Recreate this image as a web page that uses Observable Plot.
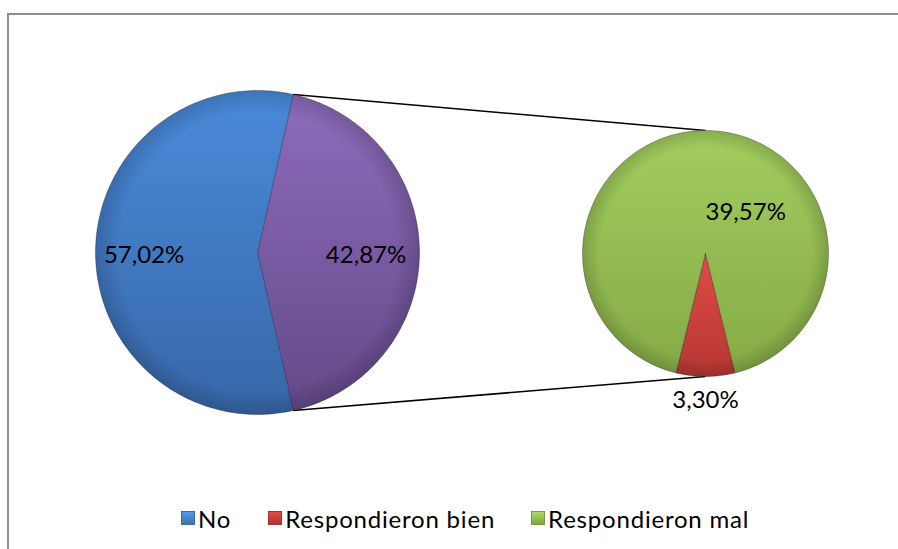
<!DOCTYPE html>
<html>
<head>
<meta charset="utf-8">
<script src="https://cdn.jsdelivr.net/npm/d3@7"></script>
<script src="https://cdn.jsdelivr.net/npm/@observablehq/plot@0.6"></script>
<style>
  html, body { margin: 0; padding: 0; background: #fff; }
  body { width: 898px; height: 549px; position: relative; overflow: hidden; font-family: Lato, "Open Sans", sans-serif; }
  #frame { position: absolute; left: 7px; top: 13px; width: 1000px; height: 700px;
           border-left: 2px solid #8e8e8e; border-top: 2px solid #8e8e8e; box-sizing: border-box; }
  #chart { position: absolute; left: 0; top: 0; }
  #legend { position: absolute; left: 181px; top: 505px; height: 26px; display: flex; align-items: center;
            font-size: 24px; letter-spacing: 0.8px; color: #000; white-space: nowrap; }
  .item { display: flex; align-items: center; }
  .sw { width: 14px; height: 14px; margin-right: 3px; box-sizing: border-box; }
</style>
</head>
<body>
<div id="frame"></div>
<div id="chart"></div>
<div id="legend"></div>
<script>
// ---- data ----
const categories = ["No", "Respondieron bien", "Respondieron mal"];
const values = [57.02, 3.30, 39.57];
const valueLabels = ["57,02%", "3,30%", "39,57%"];
const otherValue = 42.87;
const otherLabel = "42,87%";

// ---- layout / style ----
const W = 898, H = 495;
const mainPie = {cx: 257, cy: 252, r: 162};
const subPie = {cx: 705, cy: 253, r: 123};
const colors = {
  "No": ["#4a8ada", "#3767a8"],
  "Otros": ["#8d6cbc", "#654989"],
  "Respondieron bien": ["#e04b47", "#b53733"],
  "Respondieron mal": ["#a2cd5e", "#85aa46"]
};
const legendColors = ["#4a84cc", "#c8403c", "#96bd52"];

// ---- pie geometry from data ----
const tau = 2 * Math.PI;
const otherAngle = otherValue / (values[0] + otherValue) * tau;
const mainArcs = d3.pie().sort(null).value(d => d.value)
  .startAngle(Math.PI / 2 - otherAngle / 2).endAngle(Math.PI / 2 - otherAngle / 2 + tau)(
  [{name: "Otros", value: otherValue, label: otherLabel}, {name: categories[0], value: values[0], label: valueLabels[0]}]);
const bienAngle = values[1] / (values[1] + values[2]) * tau;
const subArcs = d3.pie().sort(null).value(d => d.value)
  .startAngle(Math.PI - bienAngle / 2).endAngle(Math.PI - bienAngle / 2 + tau)(
  [{name: categories[1], value: values[1], label: valueLabels[1]}, {name: categories[2], value: values[2], label: valueLabels[2]}]);

function pt(p, a, k) { return {x: p.cx + k * p.r * Math.sin(a), y: p.cy - k * p.r * Math.cos(a)}; }
function slicePoints(p, arc) {
  const pts = [{x: p.cx, y: p.cy}];
  const n = Math.max(8, Math.ceil((arc.endAngle - arc.startAngle) / (Math.PI / 180)));
  for (let i = 0; i <= n; i++) pts.push(pt(p, arc.startAngle + (arc.endAngle - arc.startAngle) * i / n, 1));
  pts.push({x: p.cx, y: p.cy});
  return pts;
}
const slices = [
  ...mainArcs.map(a => ({pie: mainPie, arc: a})),
  ...subArcs.map(a => ({pie: subPie, arc: a}))
];
const gid = name => "g" + name.replace(/\s+/g, "");

// label placement factors (layout)
const labelPlace = {
  "No": {k: 0.70, anchor: "middle", dy: 3},
  "Otros": {k: 0.67, anchor: "middle", dy: 3},
  "Respondieron bien": {k: 1.19, anchor: "middle", dy: 0},
  "Respondieron mal": {k: 0.335, anchor: "start", dy: 0}
};
const labelData = slices.map(s => {
  const mid = (s.arc.startAngle + s.arc.endAngle) / 2;
  const lp = labelPlace[s.arc.data.name];
  const p = pt(s.pie, mid, lp.k);
  return {x: p.x, y: p.y + lp.dy, text: s.arc.data.label, anchor: lp.anchor};
});

// connector lines: from "Otros" slice edges to top/bottom of second pie
const oth = mainArcs[0];
const a0 = pt(mainPie, oth.startAngle, 1), a1 = pt(mainPie, oth.endAngle, 1);
const connectors = [
  {x1: a0.x, y1: a0.y, x2: subPie.cx, y2: subPie.cy - subPie.r},
  {x1: a1.x, y1: a1.y, x2: subPie.cx, y2: subPie.cy + subPie.r}
];

// defs mark (gradients)
function defsMark() {
  const defs = d3.create("svg:defs");
  for (const [name, [c0, c1]] of Object.entries(colors)) {
    const g = defs.append("linearGradient").attr("id", gid(name))
      .attr("x1", 0).attr("y1", 0).attr("x2", 0).attr("y2", 1);
    g.append("stop").attr("offset", "0%").attr("stop-color", c0);
    g.append("stop").attr("offset", "100%").attr("stop-color", c1);
  }
  const r = defs.append("radialGradient").attr("id", "edge");
  r.append("stop").attr("offset", "86%").attr("stop-color", "#000").attr("stop-opacity", 0);
  r.append("stop").attr("offset", "100%").attr("stop-color", "#000").attr("stop-opacity", 0.16);
  return defs.node();
}

const pies = [mainPie, subPie];
const plot = Plot.plot({
  width: W, height: H,
  margin: 0,
  x: {domain: [0, W], range: [0, W], axis: null},
  y: {domain: [0, H], range: [0, H], axis: null},
  r: {type: "identity"},
  style: {background: "transparent", overflow: "visible"},
  marks: [
    defsMark,
    Plot.link(connectors, {x1: "x1", y1: "y1", x2: "x2", y2: "y2", stroke: "#000", strokeWidth: 1.5}),
    ...slices.map(s => Plot.line(slicePoints(s.pie, s.arc), {
      x: "x", y: "y", fill: `url(#${gid(s.arc.data.name)})`,
      stroke: "rgba(0,0,0,0.28)", strokeWidth: 1, strokeLinejoin: "round"
    })),
    Plot.dot(pies, {x: "cx", y: "cy", r: "r", fill: "url(#edge)", stroke: "none"}),
    Plot.text(labelData.filter(d => d.anchor === "middle"), {x: "x", y: "y", text: "text", fontSize: 24, fontFamily: "Lato", fill: "#000", textAnchor: "middle"}),
    Plot.text(labelData.filter(d => d.anchor === "start"), {x: "x", y: "y", text: "text", fontSize: 24, fontFamily: "Lato", fill: "#000", textAnchor: "start"})
  ]
});
document.getElementById("chart").append(plot);

// legend
const legend = d3.select("#legend");
const gaps = [37, 36, 0];
categories.forEach((c, i) => {
  const it = legend.append("div").attr("class", "item").style("margin-right", gaps[i] + "px");
  it.append("div").attr("class", "sw")
    .style("background", `linear-gradient(${d3.color(legendColors[i]).brighter(0.4)}, ${d3.color(legendColors[i]).darker(0.4)})`)
    .style("border", `1px solid ${d3.color(legendColors[i]).darker(0.6)}`);
  it.append("span").text(c);
});
</script>
</body>
</html>
